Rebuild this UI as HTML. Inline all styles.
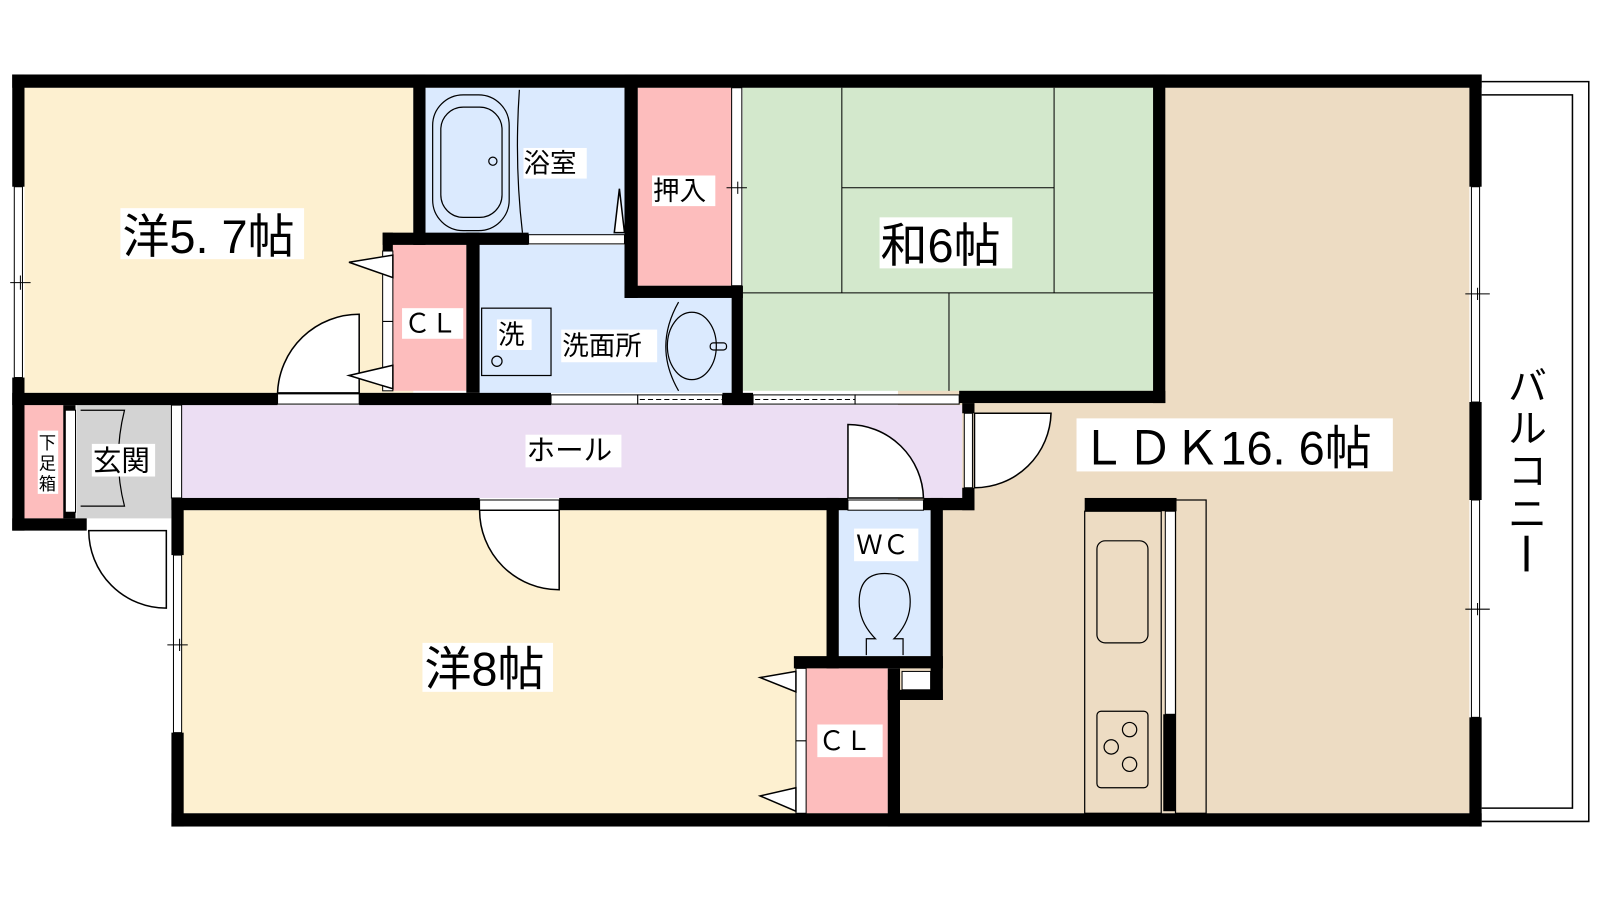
<!DOCTYPE html>
<html><head><meta charset="utf-8"><style>
html,body{margin:0;padding:0;background:#fff;width:1600px;height:900px;overflow:hidden}
svg{display:block}
text{font-family:"Liberation Sans","Noto Sans CJK JP",sans-serif;fill:#000}
</style></head><body>
<svg width="1600" height="900" viewBox="0 0 1568 882" preserveAspectRatio="none" xmlns="http://www.w3.org/2000/svg">
<rect width="1568" height="882" fill="#fff"/>
<!-- balcony -->
<g fill="none" stroke="#000" stroke-width="1.5">
<path d="M1452 80 H1557 V805 H1452"/>
<path d="M1452 93 H1541 V792 H1452"/>
</g>
<!-- room fills -->
<rect x="880" y="86" width="560" height="711" fill="#eddcc3"/>
<rect x="24" y="86" width="381" height="299" fill="#fdf0d0"/>
<rect x="417" y="86" width="195" height="144" fill="#dbeafe"/>
<rect x="625" y="86" width="92" height="194" fill="#fdbdbd"/>
<rect x="728" y="86" width="402" height="297" fill="#d3e8cc"/>
<rect x="385" y="240" width="72" height="143" fill="#fdbdbd"/>
<rect x="470" y="240" width="142" height="145" fill="#dbeafe"/>
<rect x="470" y="292" width="247" height="93" fill="#dbeafe"/>
<rect x="178" y="397" width="765" height="91" fill="#ecdef3"/>
<rect x="75" y="397" width="93" height="111" fill="#d3d3d3"/>
<rect x="24" y="397" width="38" height="111" fill="#fdbdbd"/>
<rect x="178" y="500" width="632" height="297" fill="#fdf0d0"/>
<rect x="822" y="500" width="90" height="143" fill="#dbeafe"/>
<rect x="790" y="655" width="80" height="142" fill="#fdbdbd"/>
<!-- tatami lines -->
<g stroke="#000" stroke-width="1" fill="none">
<path d="M825 86 V287 M1033 86 V287 M825 184 H1033 M728 287 H1130 M930 287 V383"/>
</g>
<!-- walls -->
<g fill="#000">
<rect x="12" y="73" width="1440" height="13"/>
<rect x="12" y="73" width="12" height="110"/><rect x="12" y="370" width="12" height="150"/>
<rect x="12" y="508" width="73" height="12"/>
<rect x="1440" y="73" width="12" height="110"/><rect x="1440" y="394" width="12" height="96"/><rect x="1440" y="703" width="12" height="107"/>
<rect x="168" y="797" width="1284" height="13"/>
<rect x="168" y="488" width="12" height="56"/><rect x="168" y="718" width="12" height="92"/>
<rect x="405" y="73" width="12" height="167"/>
<rect x="375" y="228" width="143" height="12"/>
<rect x="375" y="228" width="10" height="18"/>
<rect x="457" y="228" width="13" height="157"/>
<rect x="612" y="73" width="13" height="219"/>
<rect x="612" y="280" width="116" height="12"/>
<rect x="717" y="280" width="11" height="115"/>
<rect x="1130" y="73" width="12" height="322"/>
<rect x="940" y="383" width="202" height="12"/>
<rect x="12" y="385" width="260" height="12"/>
<rect x="352" y="385" width="188" height="12"/>
<rect x="708" y="385" width="30" height="12"/>
<rect x="62" y="397" width="12" height="111"/>
<rect x="168" y="488" width="302" height="12"/>
<rect x="548" y="488" width="283" height="12"/>
<rect x="905" y="488" width="50" height="12"/>
<rect x="943" y="395" width="12" height="10"/><rect x="943" y="478" width="12" height="22"/>
<rect x="810" y="488" width="12" height="167"/>
<rect x="912" y="488" width="12" height="198"/>
<rect x="778" y="643" width="146" height="12"/>
<rect x="870" y="655" width="12" height="155"/>
<rect x="870" y="676" width="54" height="10"/>
<rect x="1063" y="488" width="90" height="13"/>
<rect x="1140" y="700" width="12" height="95"/>
</g>
<!-- windows/openings -->
<g fill="#fff" stroke="#000" stroke-width="1">
<rect x="14" y="183" width="8" height="187"/>
<rect x="1442" y="183" width="8" height="211"/>
<rect x="1442" y="490" width="8" height="213"/>
<rect x="170" y="544" width="8" height="174"/>
<rect x="518" y="230" width="94" height="9"/>
<rect x="272" y="386" width="80" height="10"/>
<rect x="540" y="387" width="85" height="9"/>
<rect x="625" y="387" width="83" height="9"/>
<rect x="738" y="387" width="100" height="9"/>
<rect x="838" y="387" width="102" height="9"/>
<rect x="470" y="490" width="78" height="10"/>
<rect x="831" y="490" width="74" height="10"/>
<rect x="945" y="405" width="8" height="73"/>
<rect x="168" y="397" width="10" height="91"/>
<rect x="64" y="402" width="10" height="100"/>
<rect x="717" y="86" width="10" height="194"/>
<rect x="375" y="246" width="10" height="137"/>
<rect x="780" y="655" width="10" height="142"/>
<rect x="1142" y="501" width="10" height="199"/>
<rect x="884" y="658" width="28" height="18"/>
</g>
<g stroke="#000" stroke-width="1" fill="none">
<path d="M627 391.5 H708 M740 391.5 H838" stroke-dasharray="5 3"/>
<path d="M375 315 H385 M780 726 H790 M10 277 H30 M1436 288 H1460 M1436 597 H1460 M164 632 H184 M712 184 H732"/>
<path d="M20 270 V284 M1448 282 V294 M1448 591 V603 M176 626 V638 M723 178 V190"/>
</g>
<!-- doors -->
<g fill="#fff" stroke="#000" stroke-width="1.5">
<path d="M352 385 V308 A80 80 0 0 0 272 385 Z"/>
<path d="M548 500 V578 A78 78 0 0 1 470 500 Z"/>
<path d="M831 488 V416 A74 74 0 0 1 905 488 Z"/>
<path d="M955 405 H1030 A75 75 0 0 1 955 478 Z"/>
<path d="M163 520 V596 A76 76 0 0 1 87 520 Z"/>
<path d="M385 250 L342 257 L385 272 Z M385 358 L342 368 L385 381 Z"/>
<path d="M780 658 L745 664 L780 678 Z M780 772 L745 780 L780 795 Z"/>
<path d="M612 228 L602 228 L607 185 Z" />
</g>
<g fill="none" stroke="#000" stroke-width="1.2">
<path d="M79 402 H122 Q110 450 122 496 H79"/>
<path d="M509 88 Q504 160 512 228"/>
<rect x="424" y="93" width="75" height="133" rx="30"/>
<rect x="432" y="105" width="60" height="108" rx="22"/>
<circle cx="483" cy="158" r="4"/>
<rect x="472" y="302" width="68" height="66"/>
<circle cx="487" cy="354" r="5"/>
<path d="M665 296 Q640 340 665 383"/>
<ellipse cx="678" cy="339" rx="24" ry="33"/>
<rect x="696" y="336" width="16" height="7" rx="3"/>
<path d="M849 642 V626 H858 Q842 610 842 590 Q842 562 867 562 Q892 562 892 590 Q892 610 876 626 H885 V642"/>
<rect x="1063" y="501" width="75" height="296"/>
<rect x="1152" y="490" width="30" height="307"/>
<rect x="1075" y="530" width="50" height="100" rx="8"/>
<rect x="1075" y="697" width="50" height="75" rx="4"/>
<circle cx="1107" cy="715" r="7"/><circle cx="1089" cy="732" r="7"/><circle cx="1107" cy="749" r="7"/>
</g>
<!-- labels -->
<g fill="#fff">
<rect x="118" y="204" width="180" height="50"/>
<rect x="862" y="213" width="130" height="50"/>
<rect x="1055" y="410" width="310" height="52"/>
<rect x="513" y="145" width="62" height="30"/>
<rect x="639" y="172" width="62" height="30"/>
<rect x="394" y="302" width="60" height="30"/>
<rect x="487" y="313" width="34" height="30"/>
<rect x="550" y="323" width="94" height="32"/>
<rect x="515" y="426" width="94" height="32"/>
<rect x="90" y="435" width="62" height="32"/>
<rect x="37" y="422" width="20" height="62"/>
<rect x="837" y="518" width="63" height="32"/>
<rect x="414" y="630" width="128" height="48"/>
<rect x="801" y="710" width="64" height="32"/>
</g>
<text x="120" y="248" font-size="46">洋5. 7帖</text>
<text x="863" y="257" font-size="46">和6帖</text>
<text x="1058" y="455" font-size="46">ＬＤＫ16. 6帖</text>
<text x="416" y="672" font-size="46">洋8帖</text>
<text x="513" y="169" font-size="26">浴室</text>
<text x="640" y="196" font-size="26">押入</text>
<text x="396" y="326" font-size="26">ＣＬ</text>
<text x="488" y="337" font-size="26">洗</text>
<text x="551" y="348" font-size="26">洗面所</text>
<text x="516" y="451" font-size="28">ホール</text>
<text x="91" y="461" font-size="28">玄関</text>
<text x="38" y="440" font-size="17">下</text>
<text x="38" y="460" font-size="17">足</text>
<text x="38" y="480" font-size="17">箱</text>
<text x="839" y="543" font-size="26">ＷＣ</text>
<text x="802" y="735" font-size="26">ＣＬ</text>
<text x="1478" y="392" font-size="38">バ</text>
<text x="1478" y="433" font-size="38">ル</text>
<text x="1478" y="475" font-size="38">コ</text>
<text x="1478" y="517" font-size="38">ニ</text>
<rect x="1494" y="525" width="4" height="35" fill="#000"/>
</svg>
</body></html>
